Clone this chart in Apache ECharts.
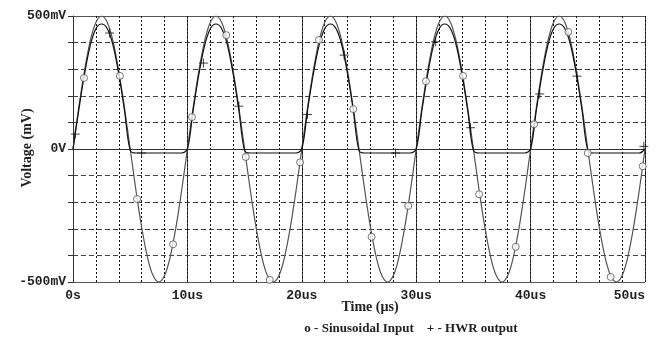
<!DOCTYPE html>
<html>
<head>
<meta charset="utf-8">
<script src="https://cdn.jsdelivr.net/npm/echarts@6/dist/echarts.min.js"></script>
<style>
  html, body { margin: 0; padding: 0; background: #fff; }
  #chart { width: 656px; height: 340px; }
</style>
</head>
<body>
<div id="chart"></div>
<script>
// time samples (us)
const timeUs = [
  0, 0.5, 1, 1.5, 2, 2.5, 3, 3.5, 4, 4.5, 5, 5.5, 6, 6.5, 7, 7.5, 8, 8.5, 9, 9.5,
  10, 10.5, 11, 11.5, 12, 12.5, 13, 13.5, 14, 14.5, 15, 15.5, 16, 16.5, 17, 17.5, 18, 18.5, 19, 19.5,
  20, 20.5, 21, 21.5, 22, 22.5, 23, 23.5, 24, 24.5, 25, 25.5, 26, 26.5, 27, 27.5, 28, 28.5, 29, 29.5,
  30, 30.5, 31, 31.5, 32, 32.5, 33, 33.5, 34, 34.5, 35, 35.5, 36, 36.5, 37, 37.5, 38, 38.5, 39, 39.5,
  40, 40.5, 41, 41.5, 42, 42.5, 43, 43.5, 44, 44.5, 45, 45.5, 46, 46.5, 47, 47.5, 48, 48.5, 49, 49.5,
  50
];

// sinusoidal input (mV)
const inputMv = [
  0, 155, 294, 405, 476, 500, 476, 405, 294, 155, 0, -155, -294, -405, -476, -500, -476, -405, -294, -155,
  0, 155, 294, 405, 476, 500, 476, 405, 294, 155, 0, -155, -294, -405, -476, -500, -476, -405, -294, -155,
  0, 155, 294, 405, 476, 500, 476, 405, 294, 155, 0, -155, -294, -405, -476, -500, -476, -405, -294, -155,
  0, 155, 294, 405, 476, 500, 476, 405, 294, 155, 0, -155, -294, -405, -476, -500, -476, -405, -294, -155,
  0, 155, 294, 405, 476, 500, 476, 405, 294, 155, 0, -155, -294, -405, -476, -500, -476, -405, -294, -155,
  0
];

// half wave rectifier output (mV)
const hwrMv = [
  0, 145, 280, 388, 452, 470, 452, 390, 282, 145, -5, -15, -15, -15, -15, -15, -15, -15, -15, -15,
  0, 145, 280, 388, 452, 470, 452, 390, 282, 145, -5, -15, -15, -15, -15, -15, -15, -15, -15, -15,
  0, 145, 280, 388, 452, 470, 452, 390, 282, 145, -5, -15, -15, -15, -15, -15, -15, -15, -15, -15,
  0, 145, 280, 388, 452, 470, 452, 390, 282, 145, -5, -15, -15, -15, -15, -15, -15, -15, -15, -15,
  0, 145, 280, 388, 452, 470, 452, 390, 282, 145, -5, -15, -15, -15, -15, -15, -15, -15, -15, -15,
  0
];

// marker positions as they appear on the traces
const inputMarkT = [0.96, 4.1, 5.6, 8.75, 10.4, 13.4, 15.1, 17.2, 19.85, 21.5, 24.5, 26.1, 29.3, 30.85, 34.1, 35.5, 38.7, 40.3, 43.3, 45.0, 47.0, 49.8];
const inputMarkV = [267, 275, -188, -358, 120, 428, -30, -492, -50, 410, 150, -330, -214, 255, 275, -170, -368, 93, 440, -15, -481, -65];
const hwrMarkT = [0.2, 3.2, 6.0, 11.4, 14.5, 20.5, 23.7, 28.2, 31.7, 34.75, 40.8, 44.05, 49.9];
const hwrMarkV = [56, 436, -15, 323, 161, 130, 353, -15, 403, 80, 207, 274, 10];

const xLabels = { 0: '0s', 10: '10us', 20: '20us', 30: '30us', 40: '40us', 50: '50us' };
const yLabels = { 500: '500mV', 0: '0V', '-500': '-500mV' };

const tickFont = 'Liberation Mono';
const textFont = '"Liberation Serif", "Times New Roman", serif';

const chart = echarts.init(document.getElementById('chart'));

const grid = { left: 73, right: 11, top: 16, bottom: 58, containLabel: false };

const xAxis = [
  {
    type: 'value',
    min: 0,
    max: 50,
    interval: 10,
    axisLine: { show: true, lineStyle: { color: '#333', width: 1 } },
    axisTick: { show: true, length: 3, lineStyle: { color: '#333' } },
    axisLabel: {
      margin: 7,
      fontFamily: tickFont,
      fontWeight: 'bold',
      fontSize: 13,
      color: '#222',
      alignMaxLabel: 'right',
      formatter: (v) => xLabels[v] || '',
    },
    splitLine: { show: true, lineStyle: { color: '#444', width: 1, type: 'solid' } },
  },
  {
    type: 'value',
    min: 0,
    max: 50,
    interval: 2,
    position: 'bottom',
    axisLine: { show: false },
    axisTick: { show: false },
    axisLabel: { show: false },
    splitLine: { show: true, lineStyle: { color: '#111', width: 1, type: [2, 2] } },
  },
];

const yAxis = [
  {
    type: 'value',
    min: -500,
    max: 500,
    interval: 100,
    axisLine: { show: true, lineStyle: { color: '#333', width: 1 } },
    axisTick: { show: true, length: 5, lineStyle: { color: '#333' } },
    axisLabel: {
      margin: 7,
      fontFamily: tickFont,
      fontWeight: 'bold',
      fontSize: 13,
      color: '#222',
      showMinLabel: true,
      showMaxLabel: true,
      formatter: (v) => yLabels[v] || '',
    },
    splitLine: { show: true, lineStyle: { color: '#444', width: 1, type: [5, 3] } },
  },
  {
    type: 'value',
    min: -500,
    max: 500,
    interval: 500,
    position: 'left',
    axisLine: { show: false },
    axisTick: { show: false },
    axisLabel: { show: false },
    splitLine: { show: true, lineStyle: { color: '#555', width: 1, type: 'solid' } },
  },
];

const inputData = timeUs.map((t, i) => [t, inputMv[i]]);
const hwrData = timeUs.map((t, i) => [t, hwrMv[i]]);
const inputMarks = inputMarkT.map((t, i) => [t, inputMarkV[i]]);
const hwrMarks = hwrMarkT.map((t, i) => [t, hwrMarkV[i]]);

const series = [
  {
    name: 'Sinusoidal Input',
    type: 'line',
    data: inputData,
    smooth: 0.35,
    showSymbol: false,
    lineStyle: { color: '#555', width: 1.2 },
    animation: false,
    z: 3,
  },
  {
    name: 'HWR output',
    type: 'line',
    data: hwrData,
    smooth: 0.35,
    showSymbol: false,
    lineStyle: { color: '#111', width: 1.2 },
    animation: false,
    z: 4,
  },
  {
    name: 'input markers',
    type: 'scatter',
    data: inputMarks,
    symbol: 'circle',
    symbolSize: 7,
    itemStyle: { color: '#fff', borderColor: '#555', borderWidth: 1 },
    animation: false,
    z: 5,
  },
  {
    name: 'hwr markers',
    type: 'scatter',
    data: hwrMarks,
    symbol: 'path://M5,0L5,10M0,5L10,5',
    symbolSize: 9,
    itemStyle: { color: 'none', borderColor: '#111', borderWidth: 1 },
    animation: false,
    z: 5,
  },
];

const graphic = [
  {
    type: 'text',
    x: 27,
    y: 148,
    rotation: Math.PI / 2,
    style: {
      text: 'Voltage (mV)',
      font: 'bold 14px ' + textFont,
      fill: '#222',
      align: 'center',
      verticalAlign: 'middle',
    },
  },
  {
    type: 'text',
    x: 370,
    y: 307,
    style: {
      text: 'Time (µs)',
      font: 'bold 14px ' + textFont,
      fill: '#222',
      align: 'center',
      verticalAlign: 'middle',
    },
  },
  {
    type: 'text',
    x: 411,
    y: 329,
    style: {
      text: 'o - Sinusoidal Input    + - HWR output',
      font: 'bold 13px ' + textFont,
      fill: '#222',
      align: 'center',
      verticalAlign: 'middle',
    },
  },
];

chart.setOption({
  animation: false,
  backgroundColor: '#fff',
  grid,
  xAxis,
  yAxis,
  series,
  graphic,
});
</script>
</body>
</html>
